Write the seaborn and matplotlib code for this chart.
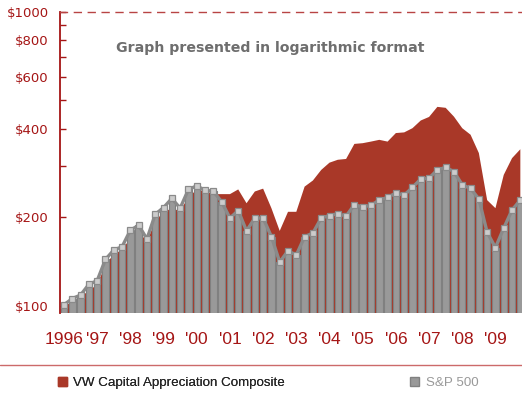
import matplotlib
matplotlib.use('Agg')
import matplotlib.pyplot as plt
from matplotlib.patches import Patch
from matplotlib.lines import Line2D
from matplotlib.ticker import FixedLocator, FuncFormatter, NullLocator
import seaborn as sns
import pandas as pd

# quarterly growth of $100, start of 1996 to end of 2009
sp500 = [101, 106, 109, 118.5, 122, 144, 155, 159, 181, 188, 169, 205, 216, 232, 215,
         249, 256, 247.5, 245.5, 226, 199, 211, 180, 199, 199, 172, 141, 154, 149, 172,
         177, 199, 203, 206, 202, 221, 217, 220, 229, 234, 242, 238, 253, 270, 272, 290,
         296, 286, 258, 251, 231, 178, 158, 184, 212, 229]
vw_composite = [100, 103, 107, 113, 118, 138, 150, 155, 170, 180, 165, 195, 208, 215, 210,
                235, 248, 246, 240, 240, 240, 249, 223.5, 245, 250.5, 215, 180, 209, 209, 254.5,
                267, 290, 307, 314, 316, 355.5, 357.5, 362, 367, 362, 387, 389, 402, 427, 439,
                475, 471.5, 440, 402, 382, 331, 229, 215, 279, 318, 341]
year_labels = ["1996", "'97", "'98", "'99", "'00", "'01", "'02", "'03", "'04", "'05",
               "'06", "'07", "'08", "'09"]
y_ticks = [100, 200, 300, 400, 500, 600, 700, 800, 900, 1000]
y_labeled = [100, 200, 400, 600, 800, 1000]

df = pd.DataFrame({'q': range(len(sp500)), 'sp500': sp500, 'vw': vw_composite})

RED = '#a93828'
AXRED = '#a51515'
GRAY = '#999999'
LINEGRAY = '#8a8a8a'

sns.set_style('white')
fig = plt.figure(figsize=(5.22, 4.0), dpi=100)
ax = fig.add_axes([60 / 522, 87 / 400, 1 - 60 / 522, (313 - 11.7) / 400])

# composite as filled area behind
ax.fill_between(df['q'], 1, df['vw'], color=RED, linewidth=0, zorder=1)

# S&P 500 bars + line
sns.barplot(data=df, x='q', y='sp500', color=GRAY, saturation=1, width=0.78,
            edgecolor='#808080', linewidth=0.8, ax=ax, zorder=2)
sns.lineplot(data=df, x='q', y='sp500', color=LINEGRAY, linewidth=2.4, marker='s',
             markersize=5, markerfacecolor='#cccccc', markeredgecolor=LINEGRAY,
             markeredgewidth=0.9, ax=ax, zorder=3)

ax.set_yscale('log')
ax.set_ylim(94.7, 1000)
ax.set_xlim(-0.48, 55.2)

ax.yaxis.set_major_locator(FixedLocator(y_ticks))
ax.yaxis.set_minor_locator(NullLocator())
ax.yaxis.set_major_formatter(FuncFormatter(lambda v, p: f'${int(round(v))}' if int(round(v)) in y_labeled else ''))
ax.tick_params(axis='y', direction='in', length=4, width=1, color=AXRED,
               labelcolor=AXRED, labelsize=9.5, pad=8, left=True)
for lab in ax.get_yticklabels():
    lab.set_family('DejaVu Sans')

ax.set_xticks(range(0, len(sp500), 4))
ax.set_xticklabels(year_labels, fontsize=12.5, color=AXRED, family='Liberation Sans')
ax.tick_params(axis='x', length=0, pad=14)
ax.set_xlabel('')
ax.set_ylabel('')

ax.spines['left'].set_color(AXRED)
ax.spines['left'].set_linewidth(1.3)
ax.spines['top'].set_color('#b84444')
ax.spines['top'].set_linestyle((0, (5, 5)))
ax.spines['top'].set_linewidth(1)
ax.spines['right'].set_visible(False)
ax.spines['bottom'].set_visible(False)

ax.text((270 - 60) / 462, 0.88, 'Graph presented in logarithmic format', transform=ax.transAxes,
        ha='center', va='center', fontsize=10.2, fontweight='bold', color='#6e6e6e',
        family='DejaVu Sans')

# separator line above legend
fig.add_artist(Line2D([0, 1], [1 - 365 / 400] * 2, color='#cc6a6a', linewidth=1))

leg1 = fig.legend(handles=[Patch(facecolor=RED, edgecolor=RED, label='VW Capital Appreciation Composite')],
                  loc='center left', bbox_to_anchor=(46 / 522, 1 - 383 / 400), frameon=False,
                  handlelength=0.65, handleheight=0.65, handletextpad=0.45,
                  prop={'family': 'Liberation Sans', 'size': 9.6})
fig.legend(handles=[Patch(facecolor=GRAY, edgecolor='#808080', label='S&P 500')],
           loc='center left', bbox_to_anchor=(398 / 522, 1 - 383 / 400), frameon=False,
           handlelength=0.65, handleheight=0.65, handletextpad=0.55,
           prop={'family': 'Liberation Sans', 'size': 9.6}, labelcolor='#999999')
fig.add_artist(leg1)

fig.savefig('out.png', dpi=100)
plt.close(fig)
